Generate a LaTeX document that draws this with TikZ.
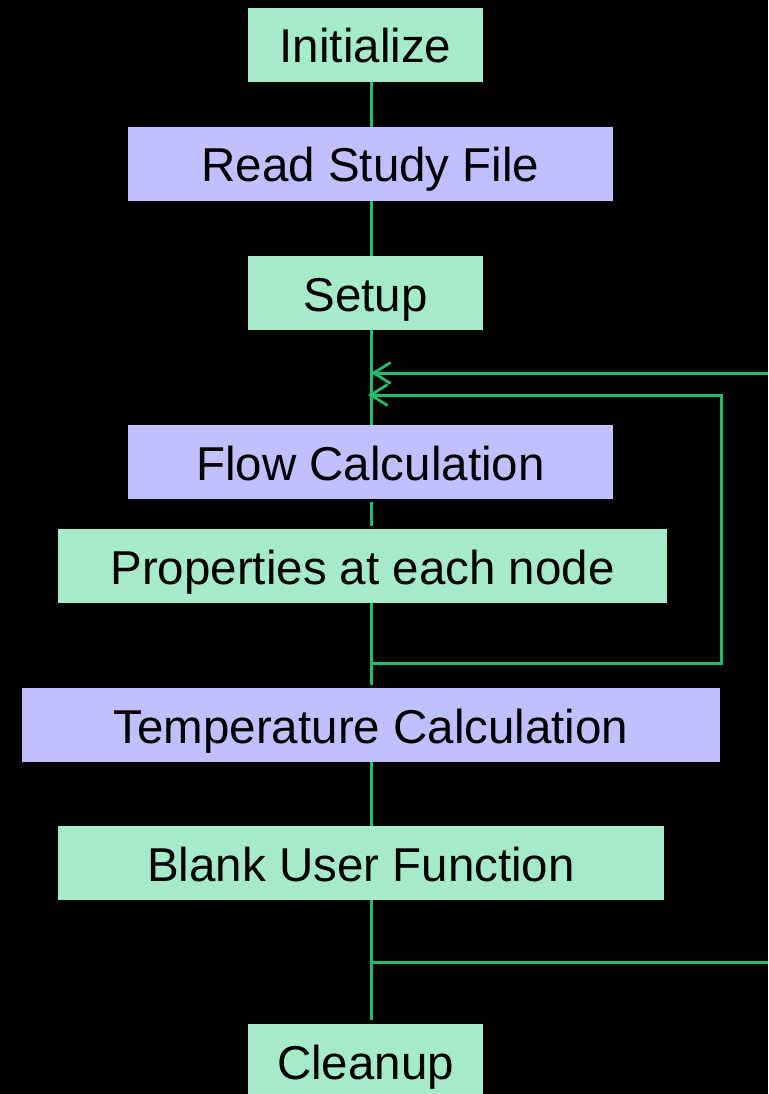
\documentclass[tikz,border=0pt]{standalone}
\usepackage{fontspec}
\setmainfont{Liberation Sans}
\usetikzlibrary{arrows.meta}
\definecolor{boxgreen}{RGB}{166,235,201}
\definecolor{boxpurple}{RGB}{192,192,255}
\definecolor{linegreen}{RGB}{34,190,110}
\tikzset{
  basebox/.style={inner sep=0pt, minimum height=74pt, text height=40pt, text depth=4pt, font=\fontsize{47.5}{56}\selectfont, text=black},
  gbox/.style={basebox, fill=boxgreen},
  pbox/.style={basebox, fill=boxpurple},
  conn/.style={draw=linegreen, line width=3pt},
  arr/.style={conn, -{Straight Barb[length=17pt,width=21pt,line width=2.8pt]}}
}
\begin{document}
\begin{tikzpicture}[x=1pt,y=-1pt]
\fill[black] (0,0) rectangle (768,1094);
\useasboundingbox (0,0) rectangle (768,1094);
\clip (0,0) rectangle (768,1094);
\coordinate (spine) at (371,0);
\node[gbox, minimum width=235pt] (init) at (365.5,45) {Initialize};
\node[pbox, minimum width=485pt] (read) at (370.5,164) {Read Study File};
\node[gbox, minimum width=235pt] (setup) at (365.5,293) {Setup};
\node[pbox, minimum width=485pt] (flow) at (370.5,462) {Flow Calculation};
\node[gbox, minimum width=609pt] (props) at (362.5,566) {Properties at each node};
\node[pbox, minimum width=698pt] (temp) at (371,725) {Temperature Calculation};
\node[gbox, minimum width=606pt] (blank) at (361,863) {Blank User Function};
\node[gbox, minimum width=235pt] (clean) at (365.5,1061) {Cleanup};
\coordinate (outer) at (768,373);
\coordinate (loopA) at (371,663);
\coordinate (loopC) at (721,395);
\coordinate (tipB) at (368,395);
\coordinate (exitA) at (371,962);
\coordinate (exitB) at (768,962);
\draw[conn] (init.south -| spine) -- (read.north -| spine);
\draw[conn] (read.south -| spine) -- (setup.north -| spine);
\draw[conn] (setup.south -| spine) -- (flow.north -| spine);
\draw[conn] ([yshift=-3pt]flow.south -| spine) -- ([yshift=3pt]props.north -| spine);
\draw[conn] (props.south -| spine) -- ([yshift=3pt]temp.north -| spine);
\draw[conn] (temp.south -| spine) -- (blank.north -| spine);
\draw[conn] (blank.south -| spine) -- ([yshift=4pt]clean.north -| spine);
\draw[arr] (outer) -- (outer -| spine);
\draw[arr] (loopA) -| (loopC) -- (tipB);
\draw[conn] (exitA) -- (exitB);
\end{tikzpicture}
\end{document}
